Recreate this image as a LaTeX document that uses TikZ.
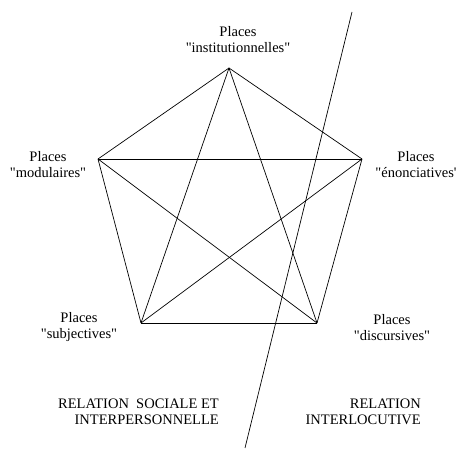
\documentclass[tikz,border=0pt]{standalone}
\usepackage{fontspec}
\setmainfont{Liberation Serif}
\usetikzlibrary{positioning}

\newcommand{\qq}[1]{\textquotedbl#1\textquotedbl}

\tikzset{
  place/.style={align=center,inner sep=0pt,font=\fontsize{14.5}{16}\selectfont},
  relation/.style={align=right,inner sep=0pt,font=\fontsize{14.5}{16}\selectfont},
  edge/.style={line width=0.7pt}
}

\begin{document}
\begin{tikzpicture}[x=1pt,y=-1pt]

  \useasboundingbox (0,0) rectangle (459,452);

  % sommets du pentagone
  \coordinate (inst) at (229,68);
  \coordinate (modu) at (98,159);
  \coordinate (enon) at (362,159);
  \coordinate (subj) at (141,323);
  \coordinate (disc) at (317,323);

  % toutes les liaisons
  \foreach \a/\b in {inst/modu,inst/enon,inst/subj,inst/disc,modu/enon,%
                     modu/subj,modu/disc,enon/subj,enon/disc,subj/disc}{
    \draw [edge] (\a) -- (\b);
  }

  % frontiere
  \coordinate (cut_top) at (352,12);
  \coordinate (cut_bot) at (245,448);
  \draw [edge] (cut_top) -- (cut_bot);

  \node [place] at(238,40) (inst_lbl) {Places\\\qq{institutionnelles}};
  \node [place] at(48,164.5) (modu_lbl) {Places\\\qq{modulaires}};
  \node [place] at(416,164.5) (enon_lbl) {Places\\\textquotedbl énonciatives\textquotesingle};
  \node [place] at(79,327.5) (subj_lbl) {Places\\\qq{subjectives}};
  \node [place] at(392,327.5) (disc_lbl) {Places\\\qq{discursives}};

  \node [relation,anchor=east] at(219,412) (soc_lbl) {RELATION\ \ SOCIALE ET\\INTERPERSONNELLE};
  \node [relation,anchor=east] at(421,412) (int_lbl) {RELATION\\INTERLOCUTIVE};
\end{tikzpicture}
\end{document}
